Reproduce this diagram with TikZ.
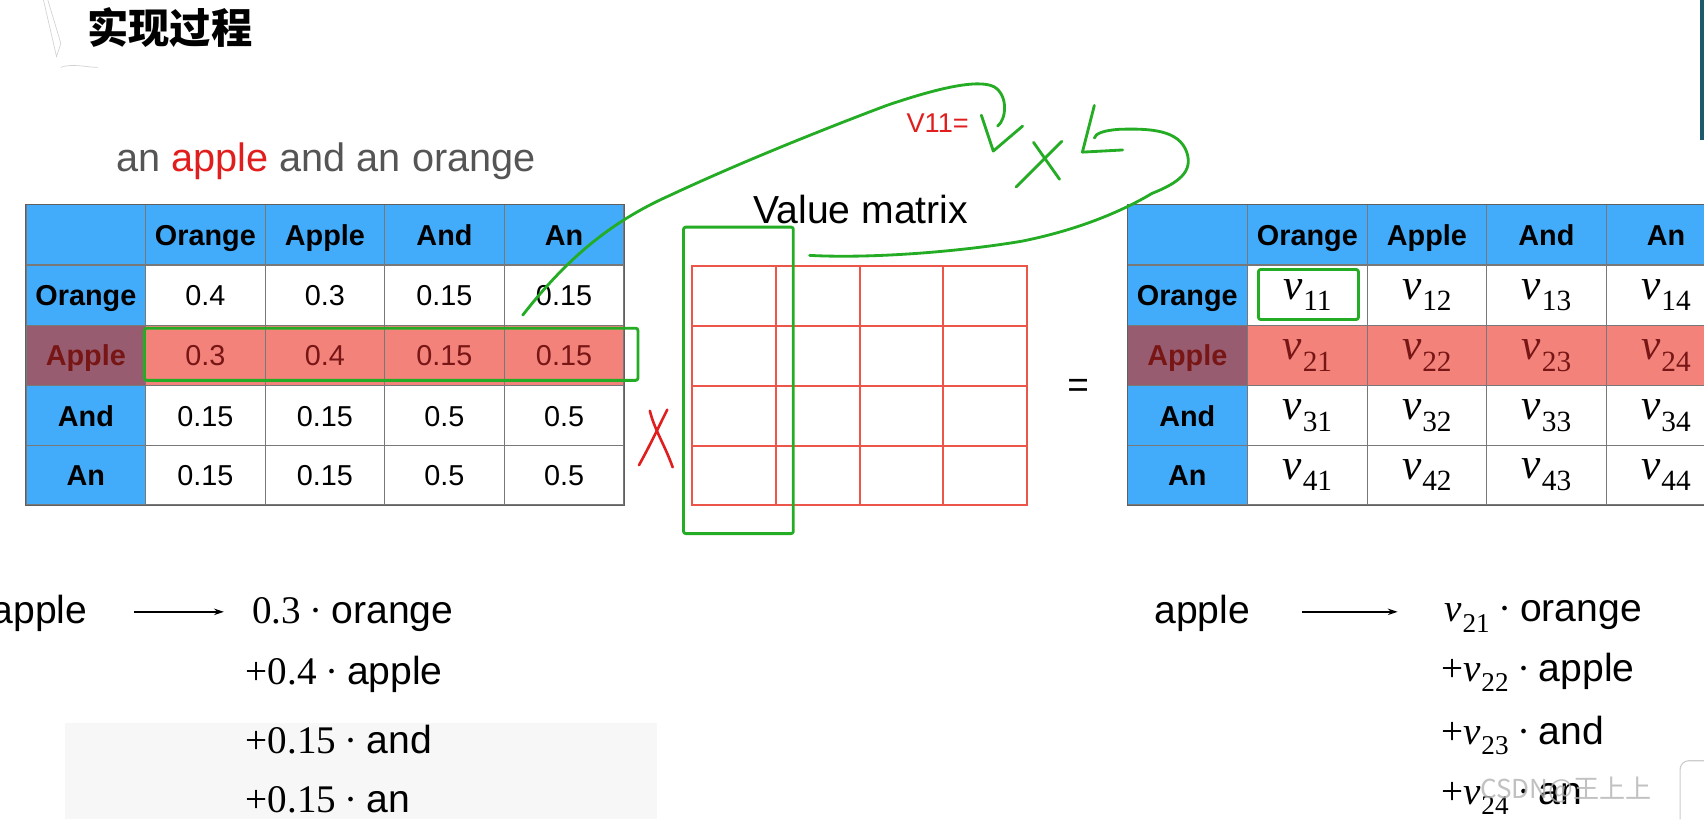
\documentclass[tikz,border=0pt]{standalone}
\usepackage{fontspec}
\setmainfont{Liberation Sans}
\newfontfamily\tms{Liberation Serif}
\newfontfamily\cjk{Noto Sans CJK SC}
\usetikzlibrary{arrows.meta}
\definecolor{hblue}{RGB}{66,172,250}
\definecolor{mauve}{RGB}{152,92,112}
\definecolor{salmon}{RGB}{242,130,122}
\definecolor{dred}{RGB}{120,22,22}
\definecolor{gridgray}{RGB}{120,120,120}
\definecolor{vred}{RGB}{236,86,74}
\definecolor{hgreen}{RGB}{36,172,36}
\definecolor{txtgray}{RGB}{85,85,85}
\definecolor{wred}{RGB}{225,30,30}
\definecolor{edgeteal}{RGB}{30,90,110}
% v with subscript, Times-like
\newcommand\vsub[2][27]{{\itshape v}\kern0.02em\raisebox{-0.27em}{\fontsize{#1}{#1}\selectfont #2}}
\newcommand\cd{\hspace{0.22em}·\hspace{0.22em}}
\begin{document}
\begin{tikzpicture}[x=1pt,y=-1pt,
  tcell/.style={draw=gridgray, line width=0.8pt, minimum width=110pt, minimum height=55pt, inner sep=0pt, text height=19pt, text depth=0pt, font=\fontsize{26.5}{30}\selectfont},
  hcell/.style={tcell, fill=hblue, font=\fontsize{26.5}{30}\selectfont\bfseries},
  acell/.style={tcell, fill=mauve, text=dred, font=\fontsize{26.5}{30}\selectfont\bfseries},
  rcell/.style={tcell, fill=salmon, text=dred},
  vcell/.style={draw=vred, line width=1.8pt, minimum width=77pt, minimum height=55pt, inner sep=0pt},
  vmath/.style={text height=, text depth=, font=\tms\fontsize{40}{44}\selectfont},
  hand/.style={draw=hgreen, line width=2.6pt, line cap=round, line join=round},
  redhand/.style={draw=wred, line width=2.4pt, line cap=round, line join=round},
  formula/.style={anchor=base west, inner sep=0pt, font=\fontsize{36}{40}\selectfont},
  arr/.style={-{Stealth[length=9pt,width=6pt]}, line width=1.4pt}
]
\useasboundingbox (0,0) rectangle (1568,754);
\fill[white] (0,0) rectangle (1568,754);
% faint watermark area
\fill[black!3] (60,665) rectangle (605,754);
% right edge bar
\fill[edgeteal] (1564,0) rectangle (1568,129);
% faint pencil icon
\draw[black!18, line width=0.6pt] (40,0) -- (52,52) -- (56,40) (44,0) -- (56,40) (56,62) .. controls (66,58) and (80,62) .. (90,62);

% title
\node[anchor=west, inner sep=0pt, font=\cjk\bfseries\fontsize{38}{44}\selectfont] (title) at (80,25) {实现过程};
% sentence
\node[anchor=west, inner sep=0pt, text=txtgray, font=\fontsize{36.5}{40}\selectfont] (sent) at (107,148) {an \textcolor{wred}{apple} and an orange};

% ---------- left table ----------
\node[hcell] (L00) at (79,216) {};
\foreach \t [count=\c] in {Orange,Apple,And,An}{
  \node[hcell] (L0\c) at (79+110*\c,216) {\t};
}
\node[hcell] (L10) at (79,271.5) {Orange};
\node[acell] (L20) at (79,327) {Apple};
\node[hcell] (L30) at (79,382.5) {And};
\node[hcell] (L40) at (79,437) {An};
\foreach \v [count=\c] in {0.4,0.3,0.15,0.15}{\node[tcell] (L1\c) at (79+110*\c,271.5) {\v};}
\foreach \v [count=\c] in {0.3,0.4,0.15,0.15}{\node[rcell] (L2\c) at (79+110*\c,327) {\v};}
\foreach \v [count=\c] in {0.15,0.15,0.5,0.5}{\node[tcell] (L3\c) at (79+110*\c,382.5) {\v};}
\foreach \v [count=\c] in {0.15,0.15,0.5,0.5}{\node[tcell] (L4\c) at (79+110*\c,437) {\v};}
\draw[gridgray!80!black, line width=1pt] (L00.north west) rectangle (L44.south east);
\draw[hand, rounded corners=2pt] (133,302) rectangle (587,350);

% ---------- value matrix ----------
\node[font=\fontsize{36}{40}\selectfont, inner sep=0pt] (vmtitle) at (792,193) {Value matrix};
\foreach \r in {1,...,4}{
  \foreach \c in {1,...,4}{
    \node[vcell] (M\r\c) at (598.5+77*\c,217.5+55*\r) {};
  }
}
\draw[hand, rounded corners=2pt] (629,209) rectangle (730,491);
\node[font=\fontsize{34}{40}\selectfont, inner sep=0pt] (eq) at (992,357) {=};

% ---------- right table ----------
\node[hcell] (R00) at (1092.5,216) {};
\foreach \t [count=\c] in {Orange,Apple,And,An}{
  \node[hcell] (R0\c) at (1093+110*\c,216) {\t};
}
\node[hcell] (R10) at (1092.5,271.5) {Orange};
\node[acell] (R20) at (1092.5,327) {Apple};
\node[hcell] (R30) at (1092.5,382.5) {And};
\node[hcell] (R40) at (1092.5,437) {An};
\foreach \c in {1,...,4}{
  \node[tcell, vmath] (R1\c) at (1093+110*\c,271.5) {\vsub{1\c}};
  \node[rcell, vmath] (R2\c) at (1093+110*\c,327) {\vsub{2\c}};
  \node[tcell, vmath] (R3\c) at (1093+110*\c,382.5) {\vsub{3\c}};
  \node[tcell, vmath] (R4\c) at (1093+110*\c,437) {\vsub{4\c}};
}
\draw[gridgray!80!black, line width=1pt] (R00.north west) -- (R04.north east) (R00.north west) -- (R40.south west) -- (R44.south east);
\draw[hand, rounded corners=2pt] (1158,248) rectangle (1250,294);

% ---------- handwriting ----------
\node[anchor=west, inner sep=0pt, text=wred, font=\fontsize{25}{28}\selectfont] (v11eq) at (834,113) {V11=};
\coordinate (c1s) at (481,290);
\coordinate (c1e) at (918,116);
\draw[hand] (c1s) .. controls (520,240) and (560,205) .. (616,180)
  .. controls (680,150) and (760,118) .. (816,97)
  .. controls (860,82) and (900,72) .. (915,80)
  .. controls (928,88) and (926,110) .. (c1e);
% handwritten v
\draw[hand] (903,106) -- (914,139) -- (941,116);
% green times
\draw[hand] (951,131) -- (975,165);
\draw[hand] (977,130) -- (935,172);
% second curve with hook
\coordinate (c2s) at (745,235);
\coordinate (c2e) at (1007,127);
\draw[hand] (c2s) .. controls (800,238) and (880,232) .. (940,222)
  .. controls (1000,210) and (1040,190) .. (1060,178)
  .. controls (1085,168) and (1098,158) .. (1092,140)
  .. controls (1085,120) and (1060,118) .. (1030,119)
  .. controls (1015,120) and (1008,123) .. (c2e);
\draw[hand] (1007,97) -- (996,140) -- (1033,138);
% red X
\draw[redhand] (598,378) .. controls (602,395) and (612,410) .. (619,430);
\draw[redhand] (614,377) .. controls (605,395) and (598,410) .. (588,428);

% ---------- bottom left formula ----------
\node[formula] (ap1) at (-8,574) {apple};
\coordinate (a1s) at (123,563);
\coordinate (a1e) at (206,563);
\draw[arr] (a1s) -- (a1e);
\node[formula] (f11) at (232,574) {{\tms 0.3\cd}orange};
\node[formula] (f12) at (226,630) {{\tms +0.4\cd}apple};
\node[formula] (f13) at (226,693) {{\tms +0.15\cd}and};
\node[formula] (f14) at (226,748) {{\tms +0.15\cd}an};

% ---------- bottom right formula ----------
\node[formula] (ap2) at (1062,574) {apple};
\coordinate (a2s) at (1198,563);
\coordinate (a2e) at (1286,563);
\draw[arr] (a2s) -- (a2e);
\node[formula] (f21) at (1329,572) {{\tms \vsub[25]{21}\cd}orange};
\node[formula] (f22) at (1326,627) {{\tms +\vsub[25]{22}\cd}apple};
\node[formula] (f23) at (1326,685) {{\tms +\vsub[25]{23}\cd}and};
\node[formula] (f24) at (1326,740) {{\tms +\vsub[25]{24}\cd}an};
% watermark
\node[anchor=west, inner sep=0pt, text=black!30, opacity=0.8, font=\cjk\fontsize{24}{28}\selectfont] (wm) at (1362,727) {CSDN@王上上};
\draw[black!20, line width=1pt, rounded corners=8pt] (1546,754) -- (1546,700) -- (1570,700);
\end{tikzpicture}
\end{document}
